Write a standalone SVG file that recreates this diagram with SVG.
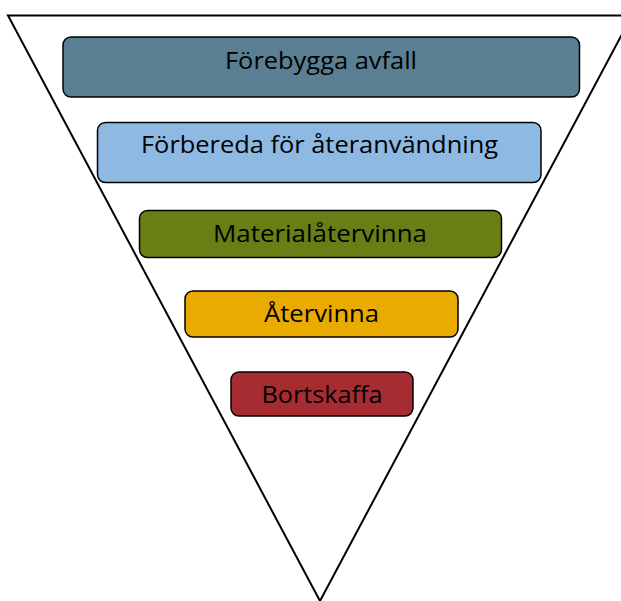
<svg xmlns="http://www.w3.org/2000/svg" width="621" height="601" viewBox="0 0 621 601">
<style>
.box{stroke:#000;stroke-width:1.5}
.lbl{font-family:"Open Sans","Liberation Sans",sans-serif;font-size:24px;fill:#000;text-anchor:middle}
</style>
<rect width="621" height="601" fill="#fff"/>
<g id="funnel">
<polygon points="8,15.5 632,15.5 320,601" fill="#fff" stroke="#000" stroke-width="2"/>
</g>
<g id="forebygga">
<rect class="box" x="63" y="37" width="516.5" height="60" rx="8" fill="#5b7f92"/>
<text class="lbl" x="321" y="69" textLength="192" lengthAdjust="spacingAndGlyphs">Förebygga avfall</text>
</g>
<g id="forbereda">
<rect class="box" x="97.5" y="122.5" width="443.5" height="60" rx="8" fill="#8db9e3"/>
<text class="lbl" x="319.5" y="153.3" textLength="357" lengthAdjust="spacingAndGlyphs">Förbereda för återanvändning</text>
</g>
<g id="materialatervinna">
<rect class="box" x="139.5" y="210.5" width="362" height="47" rx="8" fill="#677f15"/>
<text class="lbl" x="320" y="241.7" textLength="214" lengthAdjust="spacingAndGlyphs">Materialåtervinna</text>
</g>
<g id="atervinna">
<rect class="box" x="185" y="291" width="273" height="46" rx="8" fill="#eaab00"/>
<text class="lbl" x="321.5" y="321.7" textLength="115" lengthAdjust="spacingAndGlyphs">Återvinna</text>
</g>
<g id="bortskaffa">
<rect class="box" x="231" y="372" width="182" height="44" rx="8" fill="#a72c32"/>
<text class="lbl" x="322" y="402.5" textLength="121" lengthAdjust="spacingAndGlyphs">Bortskaffa</text>
</g>
<g id="connectors"></g>
</svg>
